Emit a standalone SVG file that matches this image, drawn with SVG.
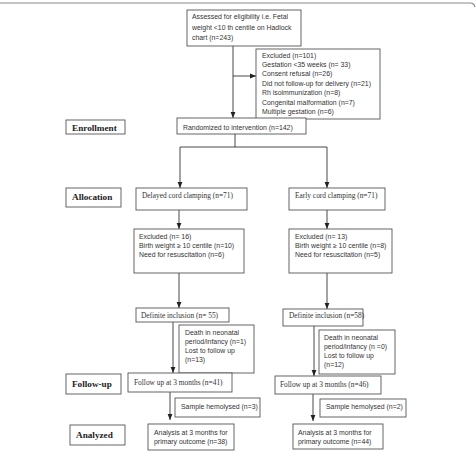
<svg xmlns="http://www.w3.org/2000/svg" width="476" height="457" viewBox="0 0 476 457">
<defs>
<marker id="ah" viewBox="0 0 6 6" refX="6" refY="3" markerWidth="6" markerHeight="6" markerUnits="userSpaceOnUse" orient="auto">
<path d="M0,0.6 L6,3 L0,5.4 Z" fill="#222"/>
</marker>
<style>
rect{fill:#fff;stroke:#555;stroke-width:0.9}
.s{font-family:"Liberation Sans",Arial,sans-serif;font-size:6.9px;fill:#333}
.r{font-family:"Liberation Serif","Times New Roman",serif;font-size:7.4px;fill:#333}
.b{font-family:"Liberation Serif","Times New Roman",serif;font-size:9.2px;font-weight:bold;fill:#222}
.c path,.c line{fill:none;stroke:#333;stroke-width:0.9}
</style>
</defs>
<rect width="476" height="457" style="fill:#fff;stroke:none"/>
<path d="M0,3 H470 Q474,3 475,7" fill="none" stroke="#8a8a8a" stroke-width="1.2"/>

<g class="c" id="connectors">
<line x1="233" y1="46" x2="233" y2="118" marker-end="url(#ah)"/>
<line x1="233" y1="76" x2="256" y2="76" marker-end="url(#ah)"/>
<path d="M235,134 V147 M180,147 H327"/>
<line x1="180" y1="147" x2="180" y2="188" marker-end="url(#ah)"/>
<line x1="327" y1="147" x2="327" y2="188" marker-end="url(#ah)"/>
<line x1="179" y1="210" x2="179" y2="229" marker-end="url(#ah)"/>
<line x1="327" y1="210" x2="327" y2="229" marker-end="url(#ah)"/>
<line x1="179" y1="273" x2="179" y2="308" marker-end="url(#ah)"/>
<line x1="327" y1="273" x2="327" y2="309" marker-end="url(#ah)"/>
<line x1="173" y1="322" x2="173" y2="373" marker-end="url(#ah)"/>
<line x1="314" y1="326" x2="314" y2="376" marker-end="url(#ah)"/>
<line x1="170" y1="392" x2="170" y2="420" marker-end="url(#ah)"/>
<line x1="313" y1="394" x2="313" y2="421" marker-end="url(#ah)"/>
</g>

<g id="assessed"><rect x="187" y="10" width="114" height="36"/>
<text class="s" x="192" y="19">Assessed for eligibility i.e. Fetal</text>
<text class="s" x="192" y="29.5">weight &lt;10 th centile on Hadlock</text>
<text class="s" x="192" y="40">chart (n=243)</text></g>

<g id="excluded101"><rect x="256" y="49" width="124" height="70"/>
<text class="s" x="262" y="57.5">Excluded (n=101)</text>
<text class="s" x="262" y="66.9">Gestation &lt;35 weeks (n= 33)</text>
<text class="s" x="262" y="76.3">Consent refusal (n=26)</text>
<text class="s" x="262" y="85.7">Did not follow-up for delivery (n=21)</text>
<text class="s" x="262" y="95.1">Rh isoimmunization (n=8)</text>
<text class="s" x="262" y="104.5">Congenital malformation (n=7)</text>
<text class="s" x="262" y="113.9">Multiple gestation (n=6)</text></g>

<g id="enrollment"><rect x="66" y="120" width="59" height="14"/>
<text class="b" x="72" y="130.5">Enrollment</text></g>

<g id="randomized"><rect x="177" y="118" width="129" height="16"/>
<text class="s" x="183" y="129.5">Randomized to intervention (n=142)</text></g>

<g id="allocation"><rect x="66" y="188" width="55" height="19"/>
<text class="b" x="72" y="199.5">Allocation</text></g>

<g id="delayed"><rect x="136" y="188" width="111" height="22"/>
<text class="r" x="142" y="197.5">Delayed cord clamping (n=71)</text></g>

<g id="early"><rect x="289" y="188" width="96" height="22"/>
<text class="r" x="295" y="197.5">Early cord clamping (n=71)</text></g>

<g id="excluded16"><rect x="134" y="229" width="110" height="44"/>
<text class="s" x="139" y="238.5">Excluded (n= 16)</text>
<text class="s" x="139" y="247.8">Birth weight ≥ 10 centile (n=10)</text>
<text class="s" x="139" y="257">Need for resuscitation (n=6)</text></g>

<g id="excluded13"><rect x="289" y="229" width="103" height="44"/>
<text class="s" x="295" y="238.5">Excluded (n= 13)</text>
<text class="s" x="295" y="247.8">Birth weight ≥ 10 centile (n=8)</text>
<text class="s" x="295" y="257">Need for resuscitation (n=5)</text></g>

<g id="definite55"><rect x="136" y="308" width="93" height="14"/>
<text class="r" x="141" y="317.5">Definite inclusion (n= 55)</text></g>

<g id="definite58"><rect x="283" y="309" width="80" height="17"/>
<text class="r" x="289" y="318">Definite inclusion (n=58)</text></g>

<g id="death-left"><rect x="179" y="325" width="75" height="48"/>
<text class="s" x="185" y="335">Death in neonatal</text>
<text class="s" x="185" y="344.3">period/infancy (n=1)</text>
<text class="s" x="185" y="353.3">Lost to follow up</text>
<text class="s" x="185" y="362.4">(n=13)</text></g>

<g id="death-right"><rect x="319" y="330" width="76" height="44"/>
<text class="s" x="324" y="339.6">Death in neonatal</text>
<text class="s" x="324" y="348.9">period/infancy (n =0)</text>
<text class="s" x="324" y="358">Lost to follow up</text>
<text class="s" x="324" y="367.3">(n=12)</text></g>

<g id="followup"><rect x="66" y="374" width="55" height="20"/>
<text class="b" x="72" y="386.5">Follow-up</text></g>

<g id="followup-left"><rect x="128" y="373" width="104" height="19"/>
<text class="r" x="134" y="384.5">Follow up at 3 months (n=41)</text></g>

<g id="followup-right"><rect x="275" y="376" width="106" height="18"/>
<text class="r" x="280" y="386.5">Follow up at 3 months (n=46)</text></g>

<g id="hemolysed-left"><rect x="175" y="398" width="85" height="19"/>
<text class="s" x="181" y="408.5">Sample hemolysed (n=3)</text></g>

<g id="hemolysed-right"><rect x="320" y="399" width="86" height="18"/>
<text class="s" x="326" y="408.8">Sample hemolysed (n=2)</text></g>

<g id="analyzed"><rect x="70" y="425" width="55" height="20"/>
<text class="b" x="76" y="437.5">Analyzed</text></g>

<g id="analysis-left"><rect x="148" y="424" width="86" height="26"/>
<text class="s" x="154" y="434.5">Analysis at 3 months for</text>
<text class="s" x="154" y="443.6">primary outcome (n=38)</text></g>

<g id="analysis-right"><rect x="293" y="424" width="90" height="25"/>
<text class="s" x="298" y="434.5">Analysis at 3 months for</text>
<text class="s" x="298" y="443.6">primary outcome (n=44)</text></g>
</svg>
